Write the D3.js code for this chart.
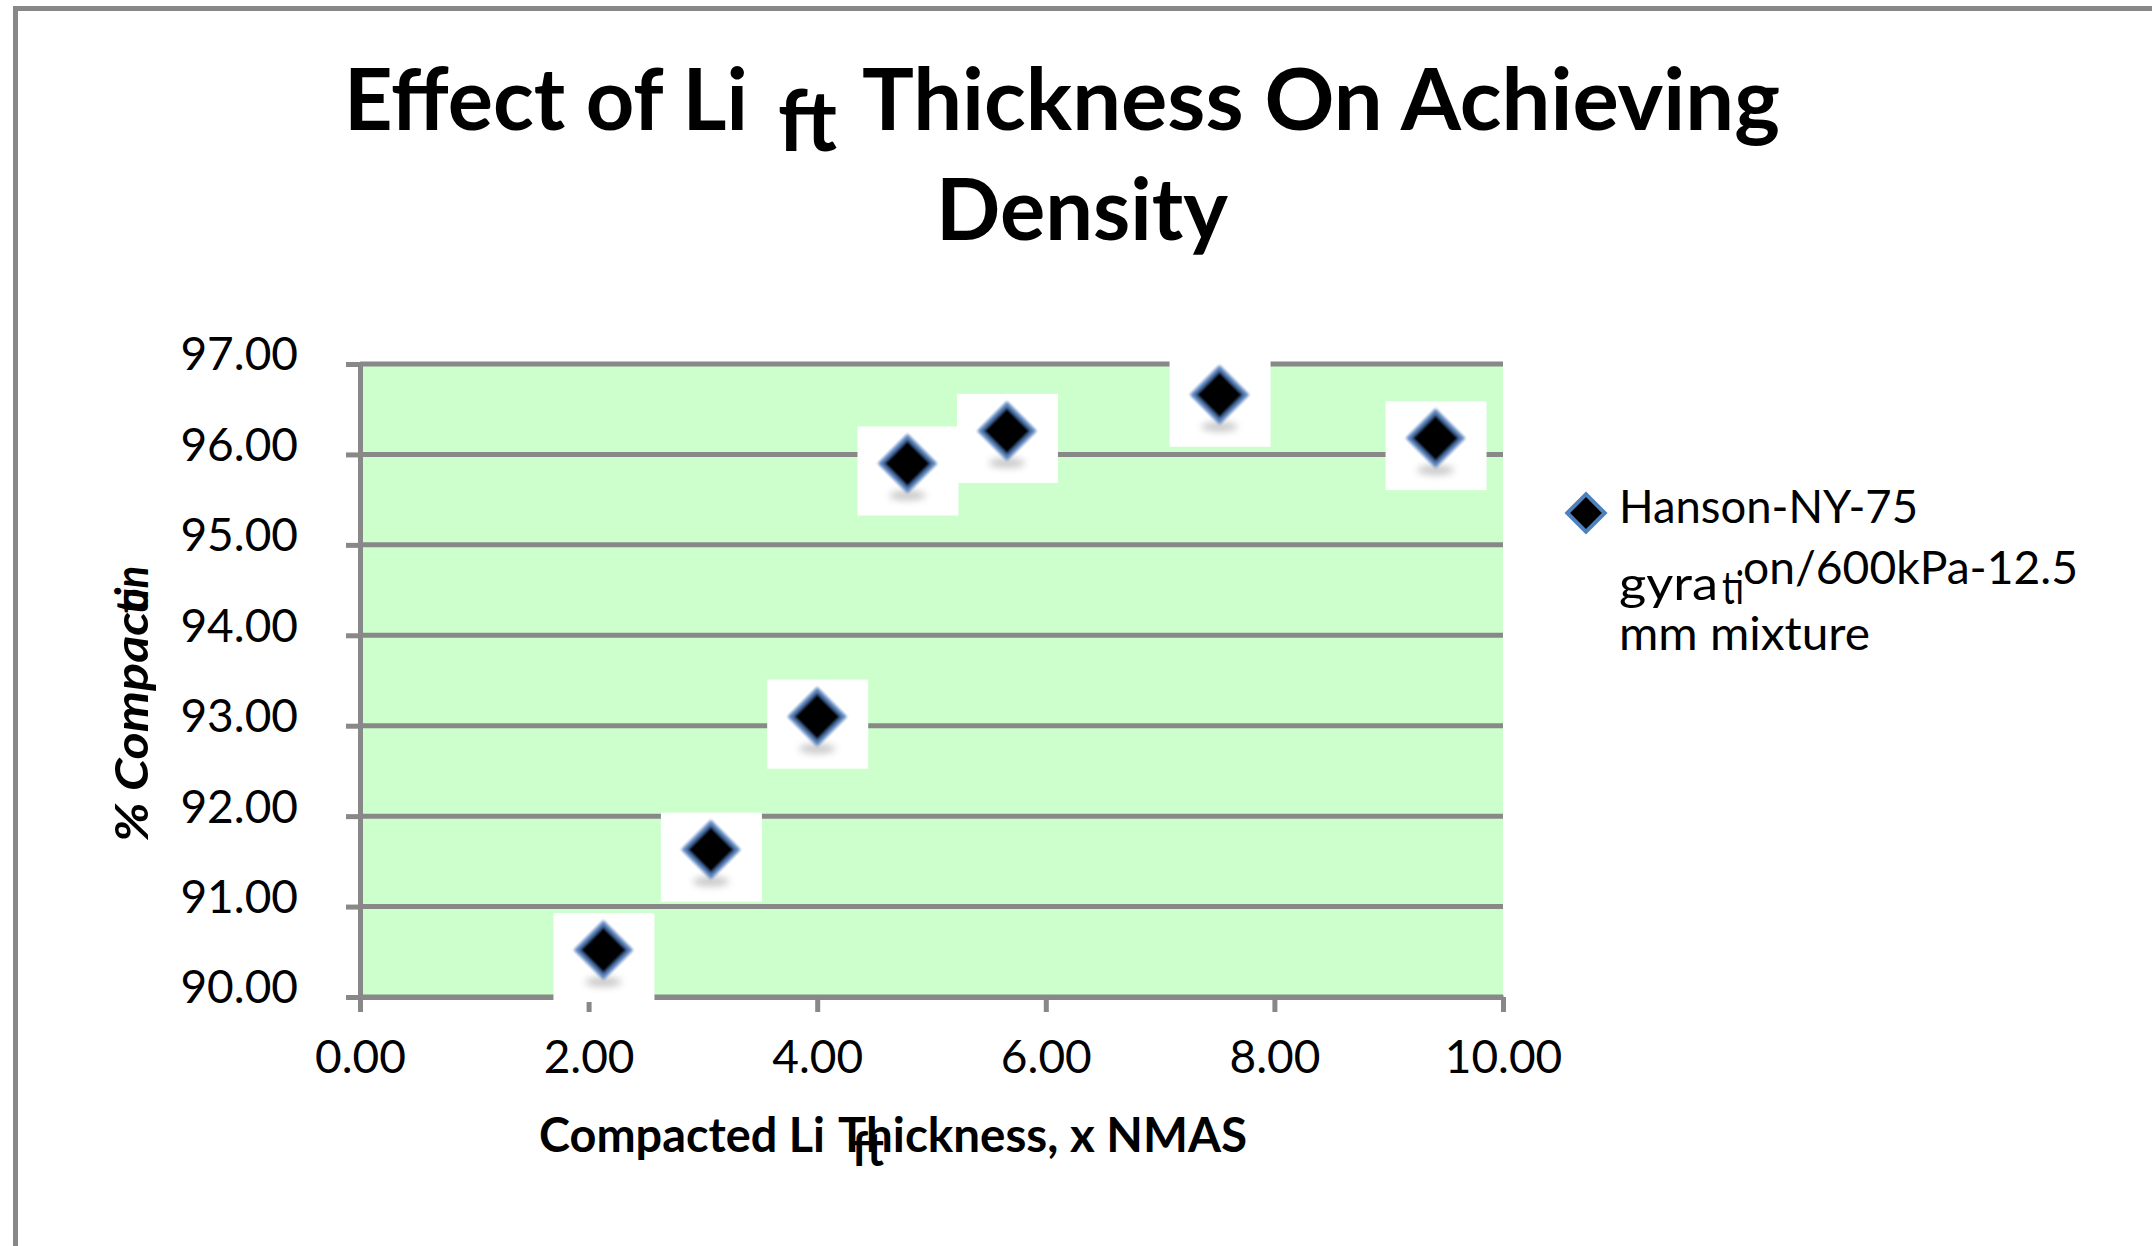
<!DOCTYPE html>
<html>
<head>
<meta charset="utf-8">
<script src="https://cdn.jsdelivr.net/npm/d3@7"></script>
<style>
    body { margin: 0; background: #fff; }
    svg { display: block; font-family: Lato, "Open Sans", sans-serif; }
</style>
</head>
<body>
<script>
// values
const liftThickness = [2.13, 3.07, 4.00, 4.79, 5.66, 7.52, 9.41];
const compaction = [90.52, 91.63, 93.10, 95.90, 96.26, 96.66, 96.18];
const xTicks = [0, 2, 4, 6, 8, 10];
const yTicks = [90, 91, 92, 93, 94, 95, 96, 97];
const seriesName = ["Hanson-NY-75", "gyra", "ti", "on/600kPa-12.5", "mm mixture"];

document.addEventListener("DOMContentLoaded", function () {
    const width = 2152;
    const height = 1246;
    const plot = { left: 360, right: 1503, top: 364, bottom: 997 };
    const gray = "#888888";

    const svg = d3.select("body").append("svg")
        .attr("width", width)
        .attr("height", height);

    const defs = svg.append("defs");
    defs.append("filter").attr("id", "soft")
        .append("feGaussianBlur").attr("stdDeviation", 1.6);
    defs.append("filter").attr("id", "shade")
        .attr("x", "-50%").attr("y", "-200%").attr("width", "200%").attr("height", "500%")
        .append("feGaussianBlur").attr("stdDeviation", 3.5);

    // outer chart border (only top and left are in frame)
    svg.append("path")
        .attr("d", `M15.5,${height}V8.5H${width}`)
        .attr("fill", "none")
        .attr("stroke", gray)
        .attr("stroke-width", 5);

    const x = d3.scaleLinear().domain([0, 10]).range([plot.left, plot.right]);
    const y = d3.scaleLinear().domain([90, 97]).range([plot.bottom, plot.top]);

    // title, with the stray "ft" glyphs as in the source
    const title = svg.append("g")
        .attr("font-weight", "bold")
        .attr("font-size", 86)
        .attr("fill", "#000");
    title.append("text").attr("x", 344).attr("y", 130)
        .attr("textLength", 404).attr("lengthAdjust", "spacingAndGlyphs")
        .text("Effect of Li");
    title.append("text").attr("x", 778).attr("y", 151)
        .attr("textLength", 59).attr("lengthAdjust", "spacingAndGlyphs")
        .text("ft");
    title.append("text").attr("x", 862).attr("y", 130)
        .attr("textLength", 918).attr("lengthAdjust", "spacingAndGlyphs")
        .text("Thickness On Achieving");
    title.append("text").attr("x", 936).attr("y", 240)
        .attr("textLength", 292).attr("lengthAdjust", "spacingAndGlyphs")
        .text("Density");

    // plot area
    svg.append("rect")
        .attr("x", plot.left)
        .attr("y", plot.top)
        .attr("width", plot.right - plot.left)
        .attr("height", plot.bottom - plot.top)
        .attr("fill", "#ccffcc");

    svg.append("g")
        .selectAll("line")
        .data(yTicks)
        .enter()
        .append("line")
        .attr("x1", plot.left)
        .attr("x2", plot.right)
        .attr("y1", d => y(d))
        .attr("y2", d => y(d))
        .attr("stroke", gray)
        .attr("stroke-width", 5);

    const xAxis = svg.append("g")
        .attr("transform", `translate(0,${plot.bottom})`)
        .call(d3.axisBottom(x)
            .tickValues(xTicks)
            .tickFormat(d3.format(".2f"))
            .tickSize(15)
            .tickSizeOuter(0)
            .tickPadding(28));

    const yAxis = svg.append("g")
        .attr("transform", `translate(${plot.left},0)`)
        .call(d3.axisLeft(y)
            .tickValues(yTicks)
            .tickFormat(d3.format(".2f"))
            .tickSize(14)
            .tickSizeOuter(0)
            .tickPadding(48));

    [xAxis, yAxis].forEach(ax => {
        ax.attr("font-family", null).attr("font-size", null);
        ax.select(".domain").attr("stroke", gray).attr("stroke-width", 5);
        ax.selectAll(".tick line").attr("stroke", gray).attr("stroke-width", 5);
        ax.selectAll(".tick text").attr("fill", "#000").attr("font-size", 46);
    });
    yAxis.selectAll(".tick text").attr("dy", "0.13em");

    // axis titles
    const xTitle = svg.append("g")
        .attr("font-weight", "bold")
        .attr("font-size", 47);
    xTitle.append("text").attr("x", 539).attr("y", 1152)
        .attr("textLength", 286).attr("lengthAdjust", "spacingAndGlyphs")
        .text("Compacted Li");
    xTitle.append("text").attr("x", 838).attr("y", 1152).text("T");
    xTitle.append("text").attr("x", 852).attr("y", 1166)
        .attr("textLength", 32).attr("lengthAdjust", "spacingAndGlyphs")
        .text("ft");
    xTitle.append("text").attr("x", 866).attr("y", 1152)
        .attr("textLength", 381).attr("lengthAdjust", "spacingAndGlyphs")
        .text("hickness, x NMAS");

    const yTitle = svg.append("g")
        .attr("transform", "translate(148,842) rotate(-90)")
        .attr("font-weight", "bold")
        .attr("font-style", "italic")
        .attr("font-size", 46);
    yTitle.append("text").attr("x", 0).attr("y", 0)
        .attr("textLength", 230).attr("lengthAdjust", "spacingAndGlyphs")
        .text("% Compac");
    yTitle.append("text").attr("x", 228).attr("y", 0)
        .attr("textLength", 26).attr("lengthAdjust", "spacingAndGlyphs")
        .text("ti");
    yTitle.append("text").attr("x", 232).attr("y", 0)
        .attr("textLength", 44).attr("lengthAdjust", "spacingAndGlyphs")
        .text("on");

    // points: each sits on its own white tile, like the pasted marker images
    const points = liftThickness.map((v, i) => ({ x: v, y: compaction[i] }));
    const marker = svg.append("g")
        .selectAll("g")
        .data(points)
        .enter()
        .append("g")
        .attr("transform", d => `translate(${x(d.x)},${y(d.y)})`);

    marker.append("rect")
        .attr("x", -50).attr("y", -37)
        .attr("width", 101).attr("height", 89)
        .attr("fill", "#fff");
    marker.append("ellipse")
        .attr("cx", 0).attr("cy", 32)
        .attr("rx", 18).attr("ry", 5)
        .attr("fill", "#888")
        .attr("opacity", 0.45)
        .attr("filter", "url(#shade)");
    marker.append("path")
        .attr("d", d3.symbol(d3.symbolSquare, 1450)())
        .attr("transform", "rotate(45)")
        .attr("fill", "#000")
        .attr("stroke", "#5a84c0")
        .attr("stroke-width", 4)
        .attr("filter", "url(#soft)");

    // legend
    const legend = svg.append("g");
    legend.append("path")
        .attr("d", d3.symbol(d3.symbolSquare, 700)())
        .attr("transform", "translate(1586,513) rotate(45)")
        .attr("fill", "#000")
        .attr("stroke", "#4f81bd")
        .attr("stroke-width", 4);

    const legendText = legend.append("g").attr("font-size", 47).attr("fill", "#000");
    legendText.append("text").attr("x", 1619).attr("y", 523)
        .attr("textLength", 299).attr("lengthAdjust", "spacingAndGlyphs")
        .text(seriesName[0]);
    legendText.append("text").attr("x", 1619).attr("y", 600)
        .attr("textLength", 99).attr("lengthAdjust", "spacingAndGlyphs")
        .text(seriesName[1]);
    legendText.append("text").attr("x", 1722).attr("y", 604)
        .attr("textLength", 22).attr("lengthAdjust", "spacingAndGlyphs")
        .text(seriesName[2]);
    legendText.append("text").attr("x", 1743).attr("y", 584)
        .attr("textLength", 335).attr("lengthAdjust", "spacingAndGlyphs")
        .text(seriesName[3]);
    legendText.append("text").attr("x", 1619).attr("y", 650)
        .attr("textLength", 251).attr("lengthAdjust", "spacingAndGlyphs")
        .text(seriesName[4]);
});
</script>
</body>
</html>
